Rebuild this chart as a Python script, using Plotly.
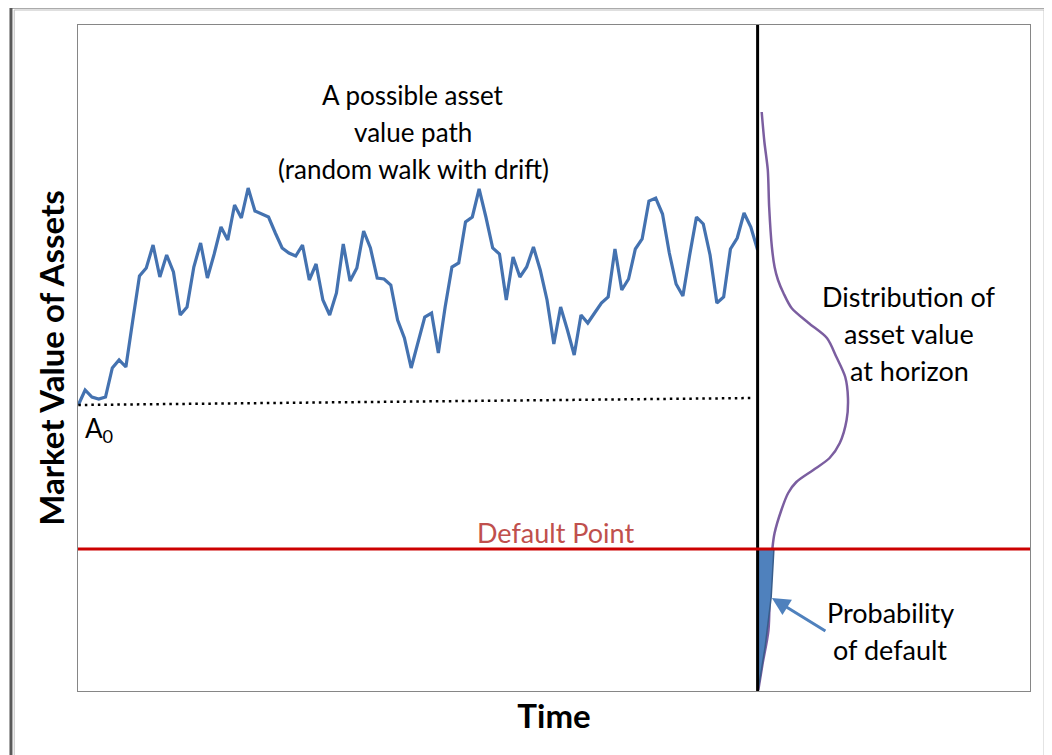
import plotly.graph_objects as go

# asset value path (time steps 0..100), arbitrary value units
path_value = [286, 301, 294, 292, 294, 323, 331, 324, 370, 415,
              423, 446, 414, 436, 419, 376, 384, 424, 448, 413,
              437, 464, 451, 486, 473, 503, 480, 477, 474, 458,
              443, 438, 435, 446, 411, 427, 391, 376, 398, 447,
              410, 423, 460, 443, 413, 412, 406, 371, 353, 323,
              349, 374, 378, 338, 384, 424, 428, 469, 474, 502,
              474, 443, 437, 391, 434, 414, 424, 444, 421, 391,
              347, 384, 361, 336, 376, 368, 378, 388, 394, 442,
              401, 412, 442, 452, 490, 493, 477, 438, 407, 395,
              436, 474, 467, 436, 388, 394, 442, 453, 478, 464,
              441]
path_time = list(range(len(path_value)))

# expected drift (A0 to horizon)
drift_time = [0, 99.5]
drift_value = [286, 293]

HORIZON = 100
DEFAULT_POINT = 142

# distribution of asset value at horizon (density in time units, to the right of horizon)
dist_level = [579, 549, 521, 484, 444, 424, 411, 398, 383, 368, 353, 334, 314,
              293, 271, 248, 233, 221, 209, 198, 181, 158, 144, 101, 61, 26, 1]
dist_density = [0.6, 1.0, 1.5, 1.7, 2.1, 2.5, 3.0, 3.8, 5.0, 7.5, 10.2, 11.6, 12.9,
                13.3, 13.1, 12.1, 10.6, 8.2, 5.7, 4.5, 3.5, 2.5, 2.2, 1.8, 1.6, 0.7, 0.1]

# tail below the default point
pd_level = [142, 94, 44, 2]
pd_density = [2.4, 2.0, 1.1, 0.1]

FONT = "Lato"
BLUE = "#4472B0"
PURPLE = "#7B5EA0"
RED = "#CC0000"
LINE_GAP = 37  # y units are one pixel each

fig = go.Figure()

fig.add_trace(go.Scatter(x=path_time, y=path_value, mode="lines",
                         line=dict(color=BLUE, width=3.2), hoverinfo="skip"))
fig.add_trace(go.Scatter(x=drift_time, y=drift_value, mode="lines",
                         line=dict(color="black", width=2.5, dash="2.5px,4px"), hoverinfo="skip"))

fig.add_trace(go.Scatter(x=[HORIZON + d for d in dist_density], y=dist_level, mode="lines",
                         line=dict(color=PURPLE, width=2.5, shape="spline", smoothing=0.8),
                         hoverinfo="skip"))

pd_x = [HORIZON] + [HORIZON + d for d in pd_density] + [HORIZON, HORIZON]
pd_y = [pd_level[0]] + pd_level + [pd_level[-1], pd_level[0]]
fig.add_trace(go.Scatter(x=pd_x, y=pd_y, mode="lines", fill="toself",
                         fillcolor="#4F81BD", line=dict(color="#385D8A", width=1.5),
                         hoverinfo="skip"))

fig.add_trace(go.Scatter(x=[HORIZON, HORIZON], y=[0, 666], mode="lines",
                         line=dict(color="black", width=3), hoverinfo="skip"))
fig.add_trace(go.Scatter(x=[-1, 141], y=[DEFAULT_POINT, DEFAULT_POINT], mode="lines",
                         line=dict(color=RED, width=3), hoverinfo="skip"))


def label(lines, x, y_top, size=27, color="black"):
    for i, s in enumerate(lines):
        fig.add_annotation(x=x, y=y_top - i * LINE_GAP, xref="x", yref="y", showarrow=False,
                           text=s, font=dict(family=FONT, size=size, color=color))


label(["A possible asset", "value path", "(random walk with drift)"], 49.3, 596, size=26)
label(["Distribution of", "asset value", "at horizon"], 122.3, 395)
label(["Probability", "of default"], 119.5, 79)
label(["Default Point"], 70.2, 159, color="#C0504D")
fig.add_annotation(x=0.7, y=262, xref="x", yref="y", showarrow=False, xanchor="left",
                   text="A<sub>0</sub>", font=dict(family=FONT, size=26, color="black"))
# arrow to the probability of default
fig.add_annotation(x=102.1, y=93, ax=110.2, ay=59, xref="x", yref="y", axref="x", ayref="y",
                   text="", showarrow=True, arrowhead=2, arrowsize=1.2, arrowwidth=3,
                   arrowcolor="#4F81BD")

# outer chart frame
fig.add_shape(type="rect", xref="paper", yref="paper", x0=-0.0704, x1=1.0179, y0=-0.11, y1=1.027,
              line=dict(color="#595959", width=3), layer="below")
fig.add_shape(type="rect", xref="paper", yref="paper", x0=-0.067, x1=1.0148, y0=-0.11, y1=1.0225,
              line=dict(color="#BFBFBF", width=1), layer="below")

fig.update_layout(
    width=1052, height=755,
    margin=dict(l=70, r=30, t=17, b=72),
    paper_bgcolor="white", plot_bgcolor="white",
    showlegend=False,
    font=dict(family=FONT),
    xaxis=dict(range=[-0.05, 140.1], showgrid=False, zeroline=False, showticklabels=False,
               ticks="", showline=True, linecolor="#868686", linewidth=1, mirror=True,
               title=dict(text="<b>Time</b>", font=dict(family=FONT, size=33, color="black"),
                          standoff=13)),
    yaxis=dict(range=[0, 666], showgrid=False, zeroline=False, showticklabels=False,
               ticks="", showline=True, linecolor="#868686", linewidth=1, mirror=True,
               title=dict(text="<b>Market Value of Assets</b>",
                          font=dict(family=FONT, size=33, color="black"), standoff=2)),
)

fig.write_html("out.html")
